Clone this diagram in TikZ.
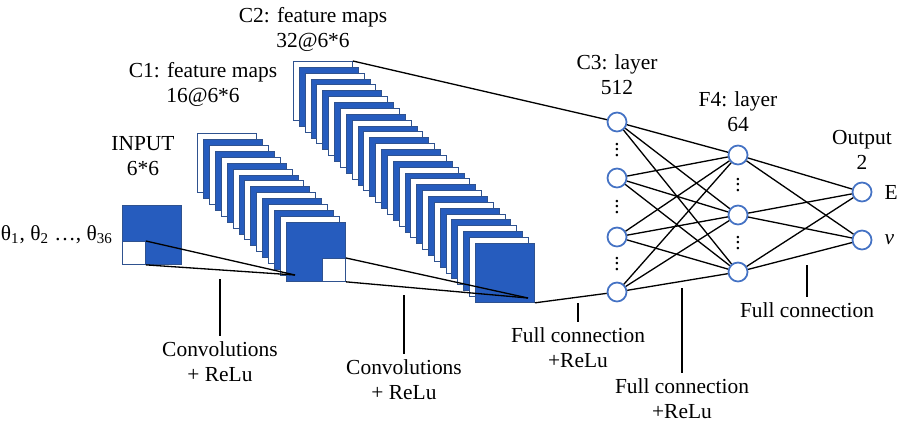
\documentclass[tikz,border=0pt]{standalone}
\usepackage{fontspec}
\setmainfont{Liberation Serif}
\usetikzlibrary{positioning}
\definecolor{mapblue}{RGB}{38,92,190}
\definecolor{mapedge}{RGB}{47,82,143}
\definecolor{ringblue}{RGB}{68,114,196}
\newcommand{\nndots}{\vbox{\baselineskip2.9pt\lineskiplimit0pt\hbox{.}\hbox{.}\hbox{.}}}

\begin{document}
\begin{tikzpicture}[
        x=0.02cm, y=-0.02cm,
        fmap/.style={rectangle, draw=mapedge, line width=0.5pt, minimum size=1.18cm, inner sep=0pt, anchor=north west},
        cell/.style={fmap, fill=white, minimum size=0.46cm},
        neuron/.style={circle, draw=ringblue, fill=white, line width=1pt, minimum size=0.38cm, inner sep=0pt},
        lbl/.style={align=center, inner sep=0pt, font=\fontsize{12.2}{14.2}\selectfont},
        tag/.style={lbl, inner sep=0.1cm},
        gap/.style={inner sep=0pt, font=\fontsize{12}{14}\selectfont},
        conn/.style={line width=0.75pt},
        tick/.style={line width=0.6pt}
    ]
    \useasboundingbox (0,0) rectangle (902,426);

    % input
    \node[fmap, fill=mapblue] (in) at (122,205) {};
    \node[cell, anchor=south west] (in-w) at (in.south west) {};

    % C1
    \foreach \i in {0,...,15}{
        \ifodd\i \def\shade{mapblue}\else \def\shade{white}\fi
        \node[fmap, fill=\shade] (c1-\i) at (197+5.93*\i, 133+5.93*\i) {};
    }
    \node[cell, anchor=south east] (c1-w) at (c1-15.south east) {};

    % C2
    \foreach \i in {0,...,31}{
        \ifodd\i \def\shade{mapblue}\else \def\shade{white}\fi
        \node[fmap, fill=\shade] (c2-\i) at (293+5.87*\i, 61+5.87*\i) {};
    }

    \coordinate (c1-tip) at (295,275);
    \coordinate (c2-tip) at (528,298);
    \draw[conn] (in-w.north east) -- (c1-tip);
    \draw[conn] (in-w.south east) -- (c1-tip);
    \draw[conn] (c1-w.north east) -- (c2-tip);
    \draw[conn] (c1-w.south east) -- (c2-tip);

    % fully connected part
    \node[neuron] (c3-1) at (617,122) {};
    \node[neuron] (c3-2) at (617,178) {};
    \node[neuron] (c3-3) at (617,237) {};
    \node[neuron] (c3-4) at (617,292) {};
    \node[gap] (c3-d1) at (617,150) {\nndots};
    \node[gap] (c3-d2) at (617,207) {\nndots};
    \node[gap] (c3-d3) at (617,264) {\nndots};

    \node[neuron] (f4-1) at (738,155) {};
    \node[neuron] (f4-2) at (738,215) {};
    \node[neuron] (f4-3) at (738,272) {};
    \node[gap] (f4-d1) at (738,185) {\nndots};
    \node[gap] (f4-d2) at (738,243) {\nndots};

    \node[neuron] (o-1) at (862,192) {};
    \node[neuron] (o-2) at (862,240) {};

    \draw[conn] (c2-0.north east) -- (c3-1);
    \draw[conn] (c2-31.south east) -- (c3-4);
    \foreach \a in {1,...,4}
        \foreach \b in {1,2,3}
            \draw[conn] (c3-\a) -- (f4-\b);
    \foreach \b in {1,2,3}
        \foreach \c in {1,2}
            \draw[conn] (f4-\b) -- (o-\c);

    % labels
    \node[lbl, anchor=north] (inlab) at (143,136) {INPUT\\6*6};
    \node[lbl, anchor=north] (c1lab) at (203,62) {C1: feature maps\\16@6*6};
    \node[lbl, anchor=north] (c2lab) at (313,7) {C2: feature maps\\32@6*6};
    \node[lbl] (c3lab) [above=0.34cm of c3-1] {C3: layer\\512};
    \node[lbl] (f4lab) [above=0.26cm of f4-1] {F4: layer\\64};
    \node[lbl] (outlab) [above=0.24cm of o-1] {Output\\2};
    \node[lbl] (elab) [right=0.24cm of o-1] {E};
    \node[lbl] (vlab) [right=0.24cm of o-2] {\textit{v}};
    \node[lbl] (theta) [left=0.18cm of in] {θ\textsubscript{1}, θ\textsubscript{2} …, θ\textsubscript{36}};

    \coordinate (k1) at (220,279);
    \coordinate (k2) at (404,295);
    \coordinate (k3) at (578,303);
    \coordinate (k4) at (682,288);
    \coordinate (k5) at (807,265);
    \node[tag] (conv1) [below=1.14cm of k1] {Convolutions\\+ ReLu};
    \node[tag] (conv2) [below=1.18cm of k2] {Convolutions\\+ ReLu};
    \node[tag] (fc1) [below=0.38cm of k3] {Full connection\\+ReLu};
    \node[tag] (fc2) [below=1.7cm of k4] {Full connection\\+ReLu};
    \node[tag] (fc3) [below=0.64cm of k5] {Full connection};
    \draw[tick] (k1) -- (conv1);
    \draw[tick] (k2) -- (conv2);
    \draw[tick] (k3) -- (fc1);
    \draw[tick] (k4) -- (fc2);
    \draw[tick] (k5) -- (fc3);
\end{tikzpicture}
\end{document}
